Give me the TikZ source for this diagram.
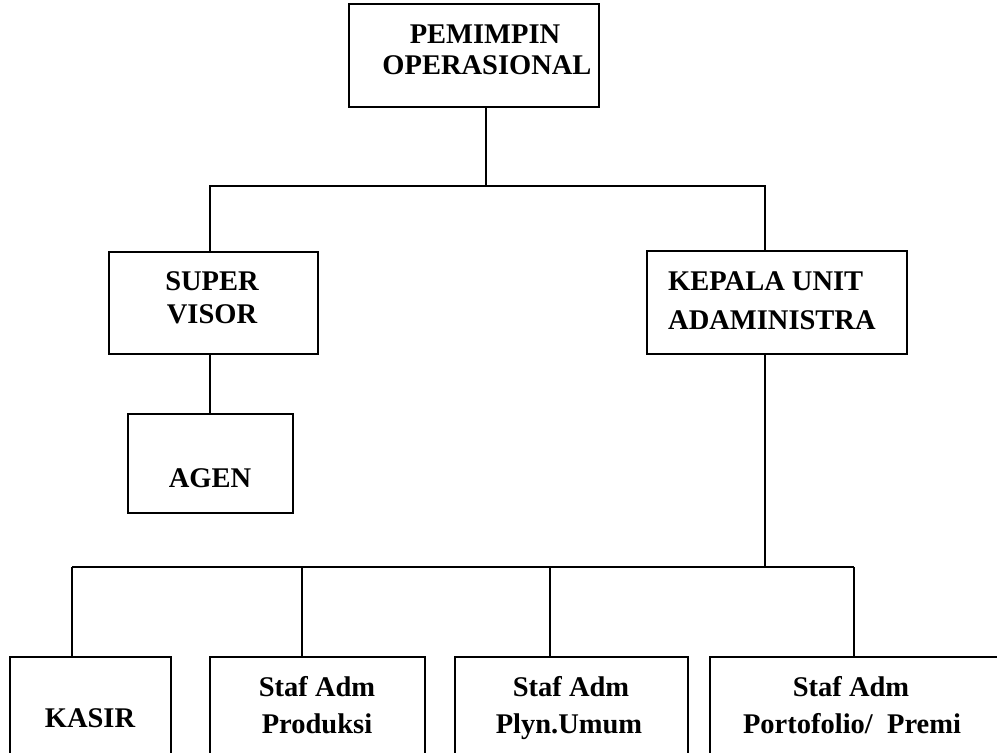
\documentclass[tikz,border=0pt]{standalone}
\usepackage{fontspec}
\setmainfont{Liberation Serif}
\begin{document}
\begin{tikzpicture}[x=1pt,y=-1pt,
  box/.style={draw=black,line width=2pt,fill=none,inner sep=0pt},
  conn/.style={draw=black,line width=2pt},
  lbl/.style={font=\fontsize{28.5}{34}\selectfont\bfseries,inner sep=0pt,anchor=base}]
\useasboundingbox (0,0) rectangle (997,753);
\clip (0,0) rectangle (997,753);
\fill[white] (0,0) rectangle (997,753);
% boxes
\node[box,minimum width=250pt,minimum height=103pt] (top) at (474,55.5) {};
\node[box,minimum width=209pt,minimum height=102pt] (super) at (213.5,303) {};
\node[box,minimum width=165pt,minimum height=99pt] (agen) at (210.5,463.5) {};
\node[box,minimum width=260pt,minimum height=103pt] (kepala) at (777,302.5) {};
\node[box,minimum width=161pt,minimum height=113pt] (kasir) at (90.5,713.5) {};
\node[box,minimum width=215pt,minimum height=113pt] (prod) at (317.5,713.5) {};
\node[box,minimum width=233pt,minimum height=113pt] (plyn) at (571.5,713.5) {};
\node[box,minimum width=295pt,minimum height=113pt] (porto) at (857.5,713.5) {};
% texts
\node[lbl] (t1a) at (485,43) {PEMIMPIN};
\node[lbl] (t1b) at (487,74) {OPERASIONAL};
\node[lbl] (t2a) at (212,290) {SUPER};
\node[lbl] (t2b) at (212,323) {VISOR};
\node[lbl] (t3) at (210,487) {AGEN};
\node[lbl,anchor=base west] (t4a) at (668,290) {KEPALA UNIT};
\node[lbl,anchor=base west] (t4b) at (668,329) {ADAMINISTRA};
\node[lbl] (t5) at (90,727) {KASIR};
\node[lbl] (t6a) at (317,696) {Staf Adm};
\node[lbl] (t6b) at (317,733) {Produksi};
\node[lbl] (t7a) at (571,696) {Staf Adm};
\node[lbl] (t7b) at (569,733) {Plyn.Umum};
\node[lbl] (t8a) at (851,696) {Staf Adm};
\node[lbl] (t8b) at (852,733) {Portofolio/\ \ Premi};
% junctions
\coordinate (jt) at (486,186);
\coordinate (bl) at (210,186);
\coordinate (br) at (765,186);
\coordinate (jb) at (765,567);
\coordinate (d1) at (72,567);
\coordinate (d2) at (302,567);
\coordinate (d3) at (550,567);
\coordinate (d4) at (854,567);
% connectors
\draw[conn] (jt |- top.south) -- (jt);
\draw[conn] (bl |- super.north) -- (bl) -- (br) -- (br |- kepala.north);
\draw[conn] (bl |- super.south) -- (bl |- agen.north);
\draw[conn] (jb |- kepala.south) -- (jb);
\draw[conn] (d1) -- (d4);
\draw[conn] (d1) -- (d1 |- kasir.north);
\draw[conn] (d2) -- (d2 |- prod.north);
\draw[conn] (d3) -- (d3 |- plyn.north);
\draw[conn] (d4) -- (d4 |- porto.north);
\end{tikzpicture}
\end{document}
